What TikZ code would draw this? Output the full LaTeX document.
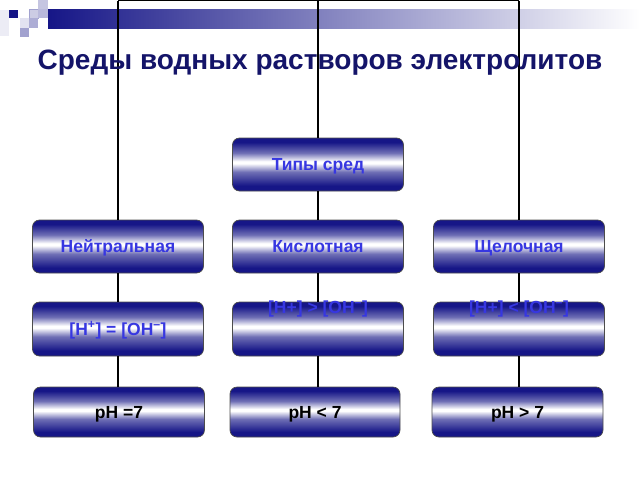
\documentclass[tikz,border=0pt]{standalone}
\usepackage{fontspec}
\setmainfont{Liberation Sans}
\definecolor{navy}{RGB}{22,22,135}
\definecolor{titlec}{RGB}{20,20,105}
\definecolor{txtblue}{RGB}{55,55,225}
% y axis is flipped in the picture, so 0bp is the top here
\pgfdeclareverticalshading{boxshade}{100bp}{color(0bp)=(navy); color(25bp)=(navy); color(30bp)=(navy); color(43bp)=(navy!62!white); color(51bp)=(white); color(53bp)=(white); color(61bp)=(navy!62!white); color(71bp)=(navy); color(75bp)=(navy); color(100bp)=(navy)}
\tikzset{
  box/.style={rectangle, rounded corners=7pt, draw=black!70, line width=0.7pt,
    shading=boxshade, minimum width=171pt, minimum height=53pt, inner sep=0pt,
    text height=12.5pt, text depth=0pt,
    font=\bfseries\fontsize{17.5}{20}\selectfont, text=txtblue},
  phbox/.style={box, minimum height=50pt, text=black},
  boxtext/.style={font=\bfseries\fontsize{17.5}{20}\selectfont, text=txtblue,
    text height=12.5pt, text depth=0pt, inner sep=0pt},
  link/.style={draw=black, line width=1.1pt},
}
\begin{document}
\begin{tikzpicture}[x=1pt,y=-1pt]
\useasboundingbox (0,0) rectangle (640,480);
% decoration
\shade[left color=navy, right color=white] (48,9) rectangle (640,28);
\fill[navy!8] (0,10) rectangle (9,36);
\fill[navy] (9,10) rectangle (18,18);
\fill[navy!22, draw=navy!40, line width=0.3pt] (29,9) rectangle (38,18);
\fill[navy!25] (38,0) rectangle (48,9);
\fill[navy!30] (38,9) rectangle (48,18);
\fill[navy!12] (20,18) rectangle (29,28);
\fill[navy!35] (29,18) rectangle (38,28);
\fill[navy!40] (20,28) rectangle (29,37);
% top coordinates
\coordinate (cl) at (118,0.5);
\coordinate (cm) at (318,0.5);
\coordinate (cr) at (519,0.5);
% nodes
\node[box] (types) at (318,164.5) {Типы сред};
\node[box] (neut) at (118,246.5) {Нейтральная};
\node[box] (acid) at (318,246.5) {Кислотная};
\node[box] (alk)  at (519,246.5) {Щелочная};
\node[box, minimum height=54pt] (neutc) at (118,329) {[H\textsuperscript{+}] = [OH\textsuperscript{–}]};
\node[box, minimum height=54pt] (acidc) at (318,329) {};
\node[box, minimum height=54pt] (alkc)  at (519,329) {};
\node[boxtext] (acidt) at (318,307) {[H+] > [OH\textsuperscript{–}]};
\node[boxtext] (alkt) at (519,307) {[H+] < [OH\textsuperscript{–}]};
\node[phbox] (neutp) at (119,412) {pH =7};
\node[phbox, minimum width=170pt] (acidp) at (315,412) {pH < 7};
\node[phbox] (alkp)  at (517.5,412) {pH > 7};
% connectors
\draw[link] (cl) -- (cr);
\draw[link] (cl) -- (neut.north -| cl);
\draw[link] (cm) -- (types.north);
\draw[link] (cr) -- (alk.north -| cr);
\draw[link] (types.south) -- (acid.north);
\draw[link] (neut.south) -- (neutc.north);
\draw[link] (acid.south) -- (acidc.north);
\draw[link] (alk.south) -- (alkc.north);
\draw[link] (neutc.south) -- (neutp.north -| neutc.south);
\draw[link] (acidc.south) -- (acidp.north -| acidc.south);
\draw[link] (alkc.south) -- (alkp.north -| alkc.south);
% title
\node[font=\bfseries\fontsize{28}{32}\selectfont, text=titlec] (title) at (320,63) {Среды водных растворов электролитов};
\end{tikzpicture}
\end{document}
